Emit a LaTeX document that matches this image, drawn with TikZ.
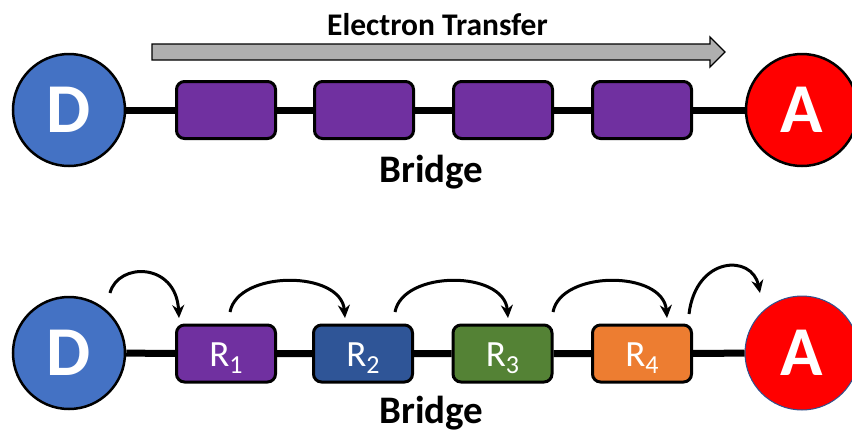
\documentclass[tikz,border=0pt]{standalone}
\usepackage{fontspec}
\setmainfont{Carlito}
\usetikzlibrary{arrows.meta}

\definecolor{donorblue}{HTML}{4472C4}
\definecolor{bridgepurple}{HTML}{7030A0}
\definecolor{unitblue}{HTML}{2F5597}
\definecolor{unitgreen}{HTML}{548235}
\definecolor{unitorange}{HTML}{ED7D31}
\definecolor{acceptorred}{HTML}{FF0000}
\definecolor{arrowgray}{HTML}{AFAFAF}
\definecolor{outlineblue}{HTML}{2F528F}

% lowered subscript for the bridge unit labels
\newcommand\unitsub[1]{\raisebox{-7pt}{\fontsize{26}{26}\selectfont #1}}

\begin{document}
\begin{tikzpicture}[x=1pt,y=-1pt,
  site/.style={circle, draw=black, line width=2.5pt, minimum size=112pt,
    inner sep=0pt, text=white, font=\bfseries\fontsize{70}{70}\selectfont},
  unit/.style={draw=black, line width=3pt, rounded corners=8pt,
    minimum width=99pt, minimum height=57pt, inner sep=0pt, text=white,
    font=\fontsize{37}{37}\selectfont, text height=25pt, text depth=0pt},
  chain/.style={line width=7pt},
  hop/.style={line width=3pt, -{Stealth[length=13pt,width=12pt]}},
  caption/.style={font=\bfseries\fontsize{39}{39}\selectfont, anchor=base},
]
\path[use as bounding box] (0,0) rectangle (852,432);
\clip (0,0) rectangle (852,432);

% ---------- top: donor - bridge - acceptor ----------
\node[site, fill=donorblue] (d1) at (69,110) {D};
\node[site, fill=acceptorred] (a1) at (802,110) {A};
\node[unit, fill=bridgepurple] (b11) at (226,110) {};
\node[unit, fill=bridgepurple] (b12) at (364,110) {};
\node[unit, fill=bridgepurple] (b13) at (503,110) {};
\node[unit, fill=bridgepurple] (b14) at (642,110) {};
\draw[chain] (d1) -- (b11) (b11) -- (b12) (b12) -- (b13) (b13) -- (b14) (b14) -- (a1);

% transfer direction arrow
\draw[fill=arrowgray, line width=1.3pt, line join=miter]
  (152,44) -- (710,44) -- (710,37) -- (725,52) -- (710,67) -- (710,60) -- (152,60) -- cycle;
\node[font=\bfseries\fontsize{31.5}{31.5}\selectfont, anchor=base] (et) at (437.5,35) {Electron Transfer};
\node[caption] (bridge1) at (431.5,182) {Bridge};

% ---------- bottom: hopping through the bridge units ----------
\node[site, fill=donorblue] (d2) at (69,353) {D};
\node[site, fill=acceptorred, draw=outlineblue, line width=1pt, minimum size=114pt] (a2) at (802,353) {A};
\node[unit, fill=bridgepurple] (r1) at (226,353.5) {R\unitsub{1}};
\node[unit, fill=unitblue]     (r2) at (363,353.5) {R\unitsub{2}};
\node[unit, fill=unitgreen]    (r3) at (502.5,353.5) {R\unitsub{3}};
\node[unit, fill=unitorange]   (r4) at (642,353.5) {R\unitsub{4}};
\draw[chain] (d2) -- (r1) (r1) -- (r2) (r2) -- (r3) (r3) -- (r4) (r4) -- (a2);
\node[caption] (bridge2) at (431.5,423) {Bridge};

% hop arrows
\coordinate (h0s) at (110,293);  \coordinate (h0e) at (179,318);
\coordinate (h1s) at (230,312);  \coordinate (h1e) at (345,318);
\coordinate (h2s) at (395,312);  \coordinate (h2e) at (508,318);
\coordinate (h3s) at (553,312);  \coordinate (h3e) at (667,318);
\coordinate (h4s) at (689,314);  \coordinate (h4e) at (760,293);
\draw[hop] (h0s) .. controls (118,262) and (176,262) .. (h0e);
\draw[hop] (h1s) .. controls (238,270) and (341,270) .. (h1e);
\draw[hop] (h2s) .. controls (403,270) and (504,270) .. (h2e);
\draw[hop] (h3s) .. controls (561,270) and (663,270) .. (h3e);
\draw[hop] (h4s) .. controls (696,256) and (752,254) .. (h4e);
\end{tikzpicture}
\end{document}
